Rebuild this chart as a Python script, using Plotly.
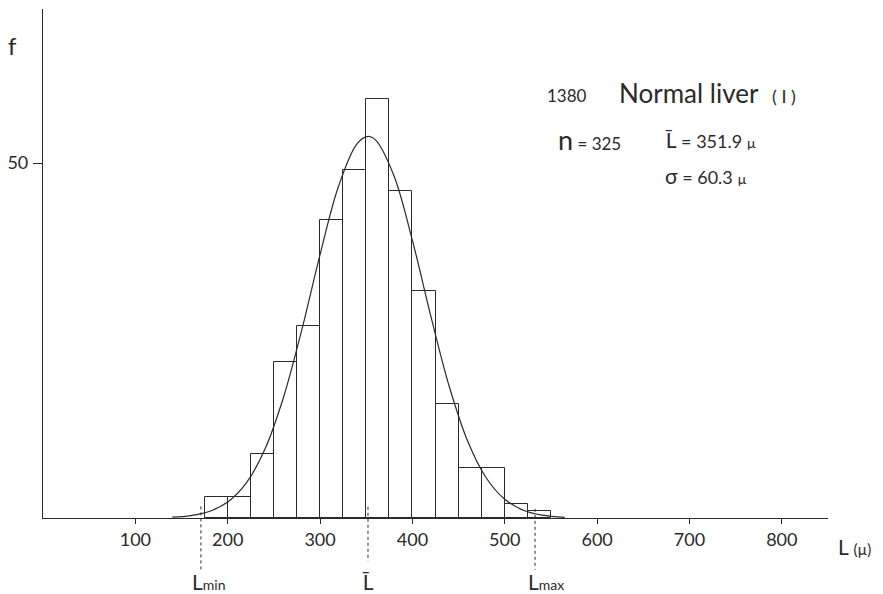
import plotly.graph_objects as go

# Histogram data (bin left edges, width 25 µ)
bin_left = [175, 200, 225, 250, 275, 300, 325, 350, 375, 400, 425, 450, 475, 500, 525]
counts = [3, 3, 9, 22, 27, 42, 49, 59, 46, 32, 16, 7, 7, 2, 1]
bin_width = 25

# Fitted curve
curve_x = [140, 160, 180, 200, 220, 240, 260, 280, 300, 320, 340, 352, 360, 380, 400,
           420, 440, 460, 480, 500, 520, 540, 565]
curve_y = [0.11, 0.34, 0.92, 2.25, 4.91, 9.6, 16.83, 26.4, 37.11, 46.73, 52.71, 53.75,
           53.27, 48.22, 39.1, 28.41, 18.49, 10.78, 5.63, 2.63, 1.1, 0.41, 0.1]

x_ticks = [100, 200, 300, 400, 500, 600, 700, 800]
y_ticks = [50]

L_min, L_mean, L_max = 171.0, 351.9, 532.8

INK = "#2a2a2a"
FONT = "Lato, 'DejaVu Sans', sans-serif"

# the page body adds an 8px offset; the figure is sized to compensate
OFF = 8
W, H = 883 - OFF, 594 - OFF
PL, PR, PT, PB = 43, 828, 9, 518.3   # plot area in window pixels

fig = go.Figure()
fig.add_trace(go.Bar(
    x=[b + bin_width / 2 for b in bin_left], y=counts, width=bin_width,
    marker=dict(color="white", line=dict(color=INK, width=1)),
    showlegend=False, hoverinfo="skip"))
fig.add_trace(go.Scatter(
    x=curve_x, y=curve_y, mode="lines", line=dict(color=INK, width=1.2, shape="spline"),
    showlegend=False, hoverinfo="skip"))

# dotted marker lines (extend below axis)
for xv, y0, y1 in [(L_min, 0.0228, -0.105), (L_mean, 0.022, -0.085), (L_max, 0.018, -0.1015)]:
    fig.add_shape(type="line", xref="x", yref="paper", x0=xv, x1=xv, y0=y0, y1=y1,
                  line=dict(color=INK, width=1, dash="dot"))


def px(xp):
    return (xp - PL) / (PR - PL)


def py(yp):
    return (PB - yp) / (PB - PT)


ann = []
ann.append(dict(x=L_min, y=py(582), xref="x", yref="paper", xanchor="left", yanchor="middle",
                xshift=-11, text="L<span style='font-size:14px'>min</span>",
                showarrow=False, font=dict(size=21)))
ann.append(dict(x=L_mean, y=py(582), xref="x", yref="paper", xanchor="center", yanchor="middle",
                xshift=0, text="L\u0304", showarrow=False, font=dict(size=21)))
ann.append(dict(x=L_max, y=py(582), xref="x", yref="paper", xanchor="left", yanchor="middle",
                xshift=-9, text="L<span style='font-size:14px'>max</span>",
                showarrow=False, font=dict(size=21)))

ann.append(dict(x=px(12), y=py(46), xref="paper", yref="paper", xanchor="center",
                yanchor="middle", text="f", showarrow=False, font=dict(size=24)))
ann.append(dict(x=px(836), y=py(547), xref="paper", yref="paper", xanchor="left",
                yanchor="middle", text="L <span style='font-size:15px'>(µ)</span>",
                showarrow=False, font=dict(size=21)))
ann.append(dict(x=px(545), y=py(96), xref="paper", yref="paper", xanchor="left",
                yanchor="middle", text="1380", showarrow=False, font=dict(size=17)))
ann.append(dict(x=px(617), y=py(93), xref="paper", yref="paper", xanchor="left",
                yanchor="middle", text="Normal liver", showarrow=False, font=dict(size=26)))
ann.append(dict(x=px(770), y=py(96), xref="paper", yref="paper", xanchor="left",
                yanchor="middle", text="( I )", showarrow=False, font=dict(size=18)))
ann.append(dict(x=px(556), y=py(140), xref="paper", yref="paper", xanchor="left",
                yanchor="middle", text="<span style='font-size:27px'>n</span> = 325",
                showarrow=False, font=dict(size=17)))
ann.append(dict(x=px(663), y=py(140), xref="paper", yref="paper", xanchor="left",
                yanchor="middle",
                text="<span style='font-size:21px'>L\u0304</span> = 351.9 <span style='font-size:14px'>µ</span>",
                showarrow=False, font=dict(size=18)))
ann.append(dict(x=px(663), y=py(176), xref="paper", yref="paper", xanchor="left",
                yanchor="middle",
                text="<span style='font-size:21px'>σ</span> = 60.3 <span style='font-size:14px'>µ</span>",
                showarrow=False, font=dict(size=18)))

fig.update_layout(
    width=W, height=H,
    margin=dict(l=PL - OFF, r=W + OFF - PR, t=PT - OFF, b=H + OFF - PB, autoexpand=False),
    paper_bgcolor="white", plot_bgcolor="white",
    font=dict(family=FONT, color=INK, size=17),
    bargap=0,
    annotations=ann,
    xaxis=dict(range=[0, 850], tickvals=x_ticks, ticktext=[str(v) for v in x_ticks],
               showline=True, linecolor=INK, linewidth=1.2, ticks="outside", ticklen=5,
               tickcolor=INK, showgrid=False, zeroline=False, fixedrange=True,
               tickfont=dict(size=18), automargin=False),
    yaxis=dict(range=[0, 71.7], tickvals=y_ticks, ticktext=["50"],
               showline=True, linecolor=INK, linewidth=1.2, ticks="outside", ticklen=9,
               tickcolor=INK, showgrid=False, zeroline=False, fixedrange=True,
               tickfont=dict(size=18), ticklabelstandoff=1, automargin=False),
)

fig.write_html("out.html")
